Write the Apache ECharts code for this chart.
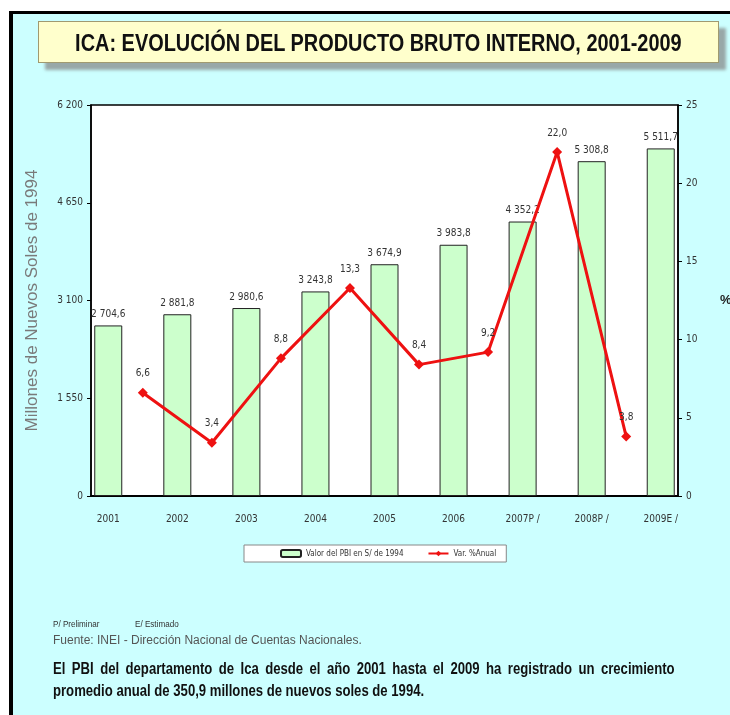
<!DOCTYPE html>
<html>
<head>
<meta charset="utf-8">
<script src="https://cdn.jsdelivr.net/npm/echarts@6/dist/echarts.min.js"></script>
<style>
html,body{margin:0;padding:0;background:#fff;width:730px;height:715px;overflow:hidden;}
#frame{position:absolute;left:9px;top:11px;width:721px;height:704px;background:#ccffff;border-left:4px solid #000;border-top:3px solid #000;box-sizing:border-box;}
#title{position:absolute;left:38px;top:21px;width:681px;height:42px;background:#ffffcc;border:1px solid #a09a70;box-shadow:7px 7px 3px #98a8a8;box-sizing:border-box;text-align:center;z-index:3;overflow:hidden;}
#title span{display:inline-block;font-family:'Liberation Sans',Arial,sans-serif;font-weight:bold;font-size:24px;line-height:42px;color:#111;white-space:nowrap;transform:scaleX(0.83);transform-origin:50% 50%;margin:0 -80px;}
#chart{position:absolute;left:0;top:0;width:730px;height:715px;z-index:2;}
.note{position:absolute;z-index:3;white-space:nowrap;}
.small{font-family:'Liberation Sans',Arial,sans-serif;font-size:9px;color:#333;transform:scaleX(0.9);transform-origin:0 0;}
.src{font-family:'Liberation Sans',Arial,sans-serif;font-size:12px;color:#555;}
.para{font-family:'Liberation Sans',Arial,sans-serif;font-size:16px;font-weight:bold;color:#111;transform:scaleX(0.82);transform-origin:0 0;}
</style>
</head>
<body>
<div id="frame"></div>
<div id="title"><span>ICA: EVOLUCIÓN DEL PRODUCTO BRUTO INTERNO, 2001-2009</span></div>
<div id="chart"></div>
<div class="note small" style="left:53px;top:619px;">P/ Preliminar</div>
<div class="note small" style="left:135px;top:619px;">E/ Estimado</div>
<div class="note src" style="left:53px;top:633px;">Fuente: INEI - Dirección Nacional de Cuentas Nacionales.</div>
<div class="note para" style="left:53px;top:660px;width:758px;text-align:justify;text-align-last:justify;">El PBI del departamento de Ica desde el año 2001 hasta el 2009 ha registrado un crecimiento</div>
<div class="note para" style="left:53px;top:682px;">promedio anual de 350,9 millones de nuevos soles de 1994.</div>
<script>
// ---- data ----
const categories = ['2001','2002','2003','2004','2005','2006','2007P /','2008P /','2009E /'];
const pbiValues = [2704.6, 2881.8, 2980.6, 3243.8, 3674.9, 3983.8, 4352.2, 5308.8, 5511.7];
const growthValues = [6.6, 3.4, 8.8, 13.3, 8.4, 9.2, 22.0, 3.8];
const leftAxisTicks = [0, 1550, 3100, 4650, 6200];
const rightAxisTicks = [0, 5, 10, 15, 20, 25];
const barName = 'Valor del PBI en S/ de 1994';
const lineName = 'Var. %Anual';

// build slot arrays: bars on even slots, growth points on odd slots between bars
const slotLabels = [], barData = [], lineData = [];
categories.forEach(function (c, i) {
  slotLabels.push(c); barData.push(pbiValues[i]); lineData.push('-');
  if (i < categories.length - 1) {
    slotLabels.push(''); barData.push('-'); lineData.push(growthValues[i]);
  }
});

function fmt(v, dec) {
  const s = Number(v).toFixed(dec).split('.');
  const ip = s[0].replace(/\B(?=(\d{3})+(?!\d))/g, ' ');
  return s.length > 1 ? ip + ',' + s[1] : ip;
}

const NARROW = "'DejaVu Sans Condensed','Liberation Sans Narrow',sans-serif";
const chart = echarts.init(document.getElementById('chart'), null, {renderer: 'canvas'});
chart.setOption({
  backgroundColor: 'transparent',
  animation: false,
  grid: {left: 91, right: 52, top: 105, bottom: 219, containLabel: false, outerBoundsMode: 'none',
    show: true, backgroundColor: '#ffffff', borderColor: '#000', borderWidth: 1.5},
  legend: {
    data: [barName, lineName],
    left: 244, top: 545,
    backgroundColor: '#ffffff', borderColor: '#888', borderWidth: 1,
    padding: [4, 10, 4, 36],
    itemWidth: 20, itemHeight: 7, itemGap: 24,
    textStyle: {fontFamily: NARROW, fontSize: 8, color: '#333'}
  },
  xAxis: {
    type: 'category', data: slotLabels, boundaryGap: true,
    axisLine: {lineStyle: {color: '#000', width: 2}},
    axisTick: {interval: 0, length: 4, lineStyle: {color: '#000'}},
    axisLabel: {interval: 0, margin: 18, fontFamily: NARROW, fontSize: 10, color: '#333'},
    splitLine: {show: false}
  },
  yAxis: [{
    type: 'value', min: leftAxisTicks[0], max: leftAxisTicks[leftAxisTicks.length - 1], interval: leftAxisTicks[1] - leftAxisTicks[0],
    name: 'Millones de Nuevos Soles de 1994', nameLocation: 'middle', nameGap: 50,
    nameTextStyle: {fontFamily: "'Liberation Sans',Arial,sans-serif", fontSize: 17, color: '#7a7a7a'},
    axisLine: {show: true, lineStyle: {color: '#000', width: 1.5}},
    axisTick: {show: true, length: 4, lineStyle: {color: '#000'}},
    axisLabel: {margin: 8, fontFamily: NARROW, fontSize: 10, color: '#333', formatter: function (v) { return fmt(v, 0); }},
    splitLine: {show: false}
  }, {
    type: 'value', position: 'right', min: rightAxisTicks[0], max: rightAxisTicks[rightAxisTicks.length - 1], interval: rightAxisTicks[1] - rightAxisTicks[0],
    name: '%', nameLocation: 'middle', nameGap: 42, nameRotate: 0,
    nameTextStyle: {fontFamily: "'Liberation Sans',Arial,sans-serif", fontSize: 13, fontWeight: 'bold', color: '#222'},
    axisLine: {show: true, lineStyle: {color: '#000', width: 1.5}},
    axisTick: {show: true, length: 4, lineStyle: {color: '#000'}},
    axisLabel: {margin: 8, fontFamily: NARROW, fontSize: 10, color: '#333'},
    splitLine: {show: false}
  }],
  series: [{
    name: barName, type: 'bar', data: barData, barWidth: 28, yAxisIndex: 0,
    itemStyle: {color: '#ccffcc', borderColor: '#222', borderWidth: 1},
    label: {show: true, position: 'top', distance: 6, fontFamily: NARROW, fontSize: 10, color: '#333',
      formatter: function (p) { return fmt(p.value, 1); }}
  }, {
    name: lineName, type: 'line', data: lineData, yAxisIndex: 1, connectNulls: true, z: 5,
    symbol: 'diamond', symbolSize: 10,
    itemStyle: {color: '#ee1111'},
    lineStyle: {color: '#ee1111', width: 3},
    label: {show: true, position: 'top', distance: 9, fontFamily: NARROW, fontSize: 10, color: '#333',
      formatter: function (p) { return fmt(p.value, 1); }}
  }]
});
</script>
</body>
</html>
